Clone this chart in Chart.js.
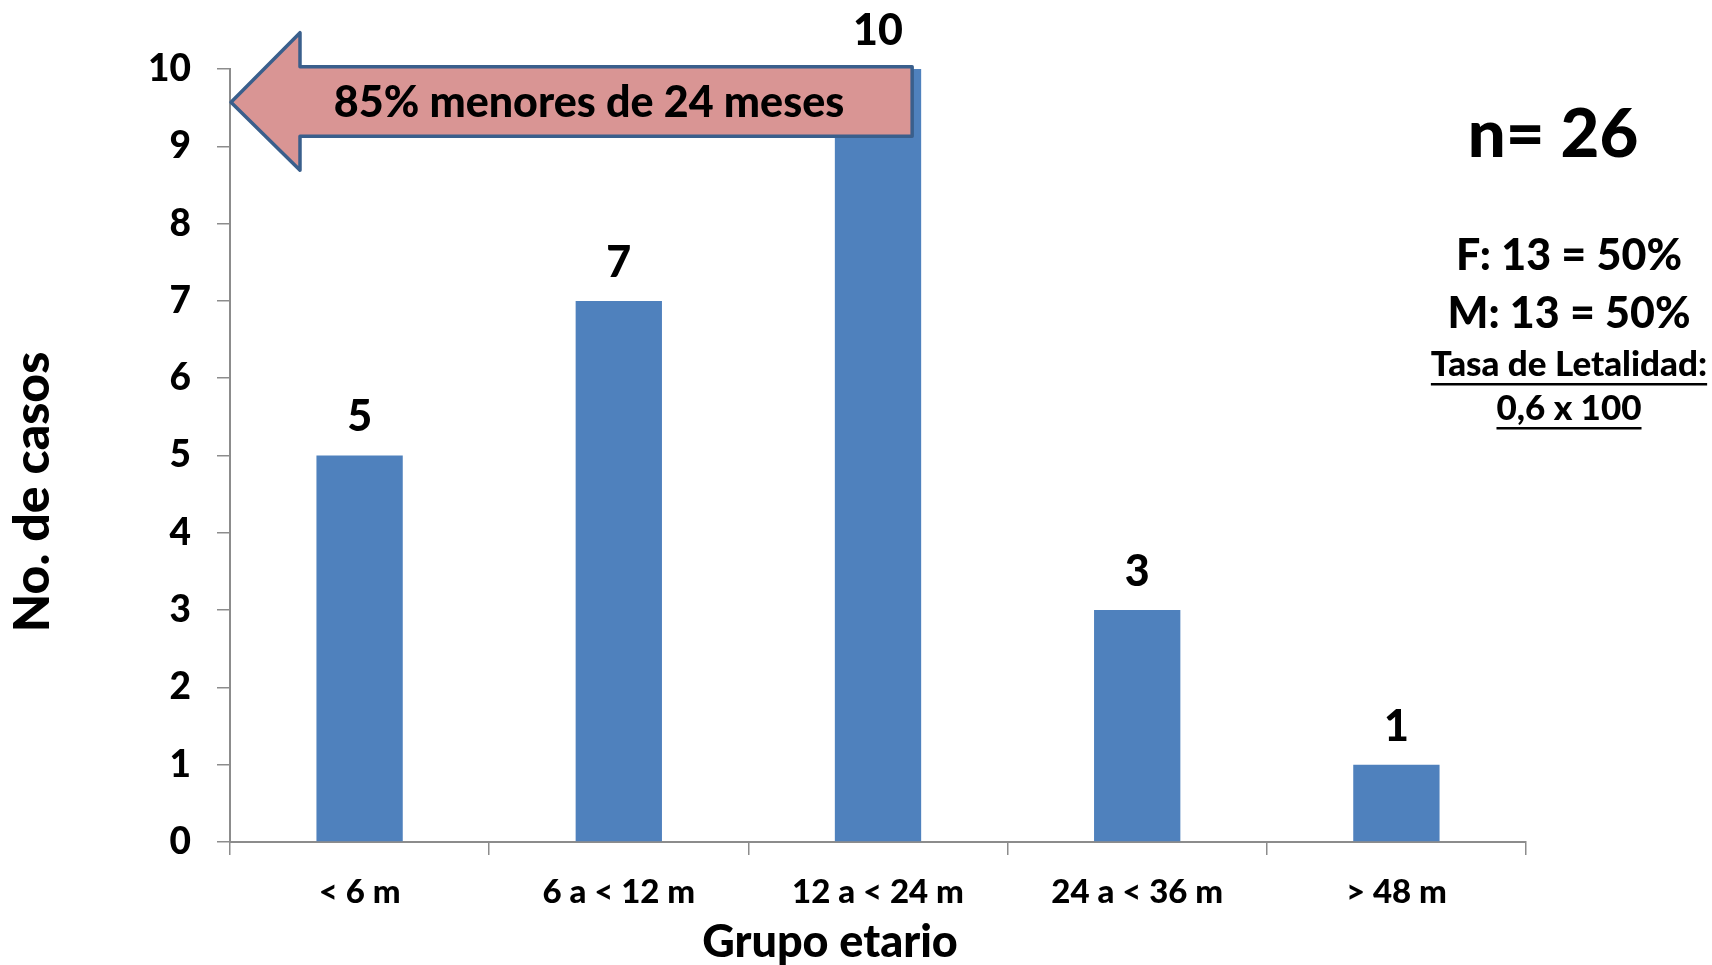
<!DOCTYPE html>
<html>
<head>
<meta charset="utf-8">
<script src="https://cdn.jsdelivr.net/npm/chart.js@4"></script>
<style>
  html, body { margin: 0; padding: 0; background: #fff; }
  #wrap { width: 1712px; height: 965px; }
</style>
</head>
<body>
<div id="wrap"><canvas id="chart"></canvas></div>
<script>
// data
const categories = ['< 6 m', '6 a < 12 m', '12 a < 24 m', '24 a < 36 m', '> 48 m'];
const casos = [5, 7, 10, 3, 1];
const yTicks = [0, 1, 2, 3, 4, 5, 6, 7, 8, 9, 10];
const arrowText = '85% menores de 24 meses';
const sideNotes = ['n= 26', 'F: 13 = 50%', 'M: 13 = 50%'];
const tasaNotes = ['Tasa de Letalidad:', '0,6 x 100'];
const xTitle = 'Grupo etario';
const yTitle = 'No. de casos';

const FONT = 'Lato, "Open Sans", sans-serif';
const W = '900';
const axisGray = '#8c8c8c';

// numbers above bars
const valueLabels = {
  id: 'valueLabels',
  afterDatasetsDraw(chart) {
    const ctx = chart.ctx;
    const meta = chart.getDatasetMeta(0);
    ctx.save();
    ctx.font = W + ' 43px ' + FONT;
    ctx.fillStyle = '#000';
    ctx.textAlign = 'center';
    ctx.textBaseline = 'middle';
    meta.data.forEach((bar, i) => {
      ctx.fillText(String(casos[i]), bar.x, bar.y - 38);
    });
    ctx.restore();
  }
};

// pink arrow, axis titles and text on the right
const notes = {
  id: 'notes',
  afterDraw(chart) {
    const ctx = chart.ctx;
    const x = chart.scales.x, y = chart.scales.y;
    const bar = chart.getDatasetMeta(0).data[2];
    const tipX = x.left + 1;
    const tipY = y.getPixelForValue(9.57);
    const headX = tipX + 69;
    const headTop = y.getPixelForValue(10.47);
    const headBot = y.getPixelForValue(8.69);
    const shaftTop = y.getPixelForValue(10.03);
    const shaftBot = y.getPixelForValue(9.13);
    const endX = bar.x + bar.width / 2 - 9;

    ctx.save();
    ctx.beginPath();
    ctx.moveTo(tipX, tipY);
    ctx.lineTo(headX, headTop);
    ctx.lineTo(headX, shaftTop);
    ctx.lineTo(endX, shaftTop);
    ctx.lineTo(endX, shaftBot);
    ctx.lineTo(headX, shaftBot);
    ctx.lineTo(headX, headBot);
    ctx.closePath();
    ctx.fillStyle = '#d99594';
    ctx.fill();
    ctx.lineWidth = 3.5;
    ctx.lineJoin = 'round';
    ctx.strokeStyle = '#3a5f8c';
    ctx.stroke();

    ctx.fillStyle = '#000';
    ctx.textAlign = 'center';
    ctx.textBaseline = 'middle';
    ctx.font = W + ' 43px ' + FONT;
    ctx.fillText(arrowText, 589, tipY + 1);

    // axis titles (offset from the chart centre like the original)
    ctx.font = W + ' 45px ' + FONT;
    ctx.fillText(xTitle, 830, 942);
    ctx.save();
    ctx.translate(33, 492);
    ctx.rotate(-Math.PI / 2);
    ctx.font = W + ' 50px ' + FONT;
    ctx.fillText(yTitle, 0, 0);
    ctx.restore();

    const cx = 1569;
    ctx.font = W + ' 67px ' + FONT;
    ctx.fillText(sideNotes[0], 1553, 135);
    ctx.font = W + ' 43px ' + FONT;
    ctx.fillText(sideNotes[1], cx, 256);
    ctx.fillText(sideNotes[2], cx, 314);

    ctx.font = W + ' 35px ' + FONT;
    [365, 409].forEach((py, i) => {
      const t = tasaNotes[i];
      ctx.fillText(t, cx, py);
      const w = ctx.measureText(t).width;
      ctx.fillRect(cx - w / 2, py + 18, w, 2.5);
    });
    ctx.restore();
  }
};

new Chart(document.getElementById('chart'), {
  type: 'bar',
  data: {
    labels: categories,
    datasets: [{
      data: casos,
      backgroundColor: '#4f81bd',
      barPercentage: 0.333,
      categoryPercentage: 1.0
    }]
  },
  options: {
    responsive: true,
    maintainAspectRatio: false,
    animation: false,
    layout: { padding: { top: 69, right: 186, left: 0, bottom: 0 } },
    plugins: { legend: { display: false }, tooltip: { enabled: false } },
    scales: {
      x: {
        grid: { drawOnChartArea: false, drawTicks: true, tickLength: 13, color: axisGray, lineWidth: 1.5 },
        border: { color: axisGray, width: 2 },
        ticks: { color: '#000', font: { family: FONT, size: 33, weight: W }, padding: 18 },
        title: { display: false },
        afterFit(s) { s.height = 123; }
      },
      y: {
        min: 0, max: 10,
        afterBuildTicks(s) { s.ticks = yTicks.map(v => ({ value: v })); },
        grid: { drawOnChartArea: false, drawTicks: true, tickLength: 13, color: axisGray, lineWidth: 1.5 },
        border: { color: axisGray, width: 2 },
        ticks: { color: '#000', font: { family: FONT, size: 37, weight: W }, padding: 26 },
        title: { display: false },
        afterFit(s) { s.width = 230; }
      }
    }
  },
  plugins: [valueLabels, notes]
});
</script>
</body>
</html>
